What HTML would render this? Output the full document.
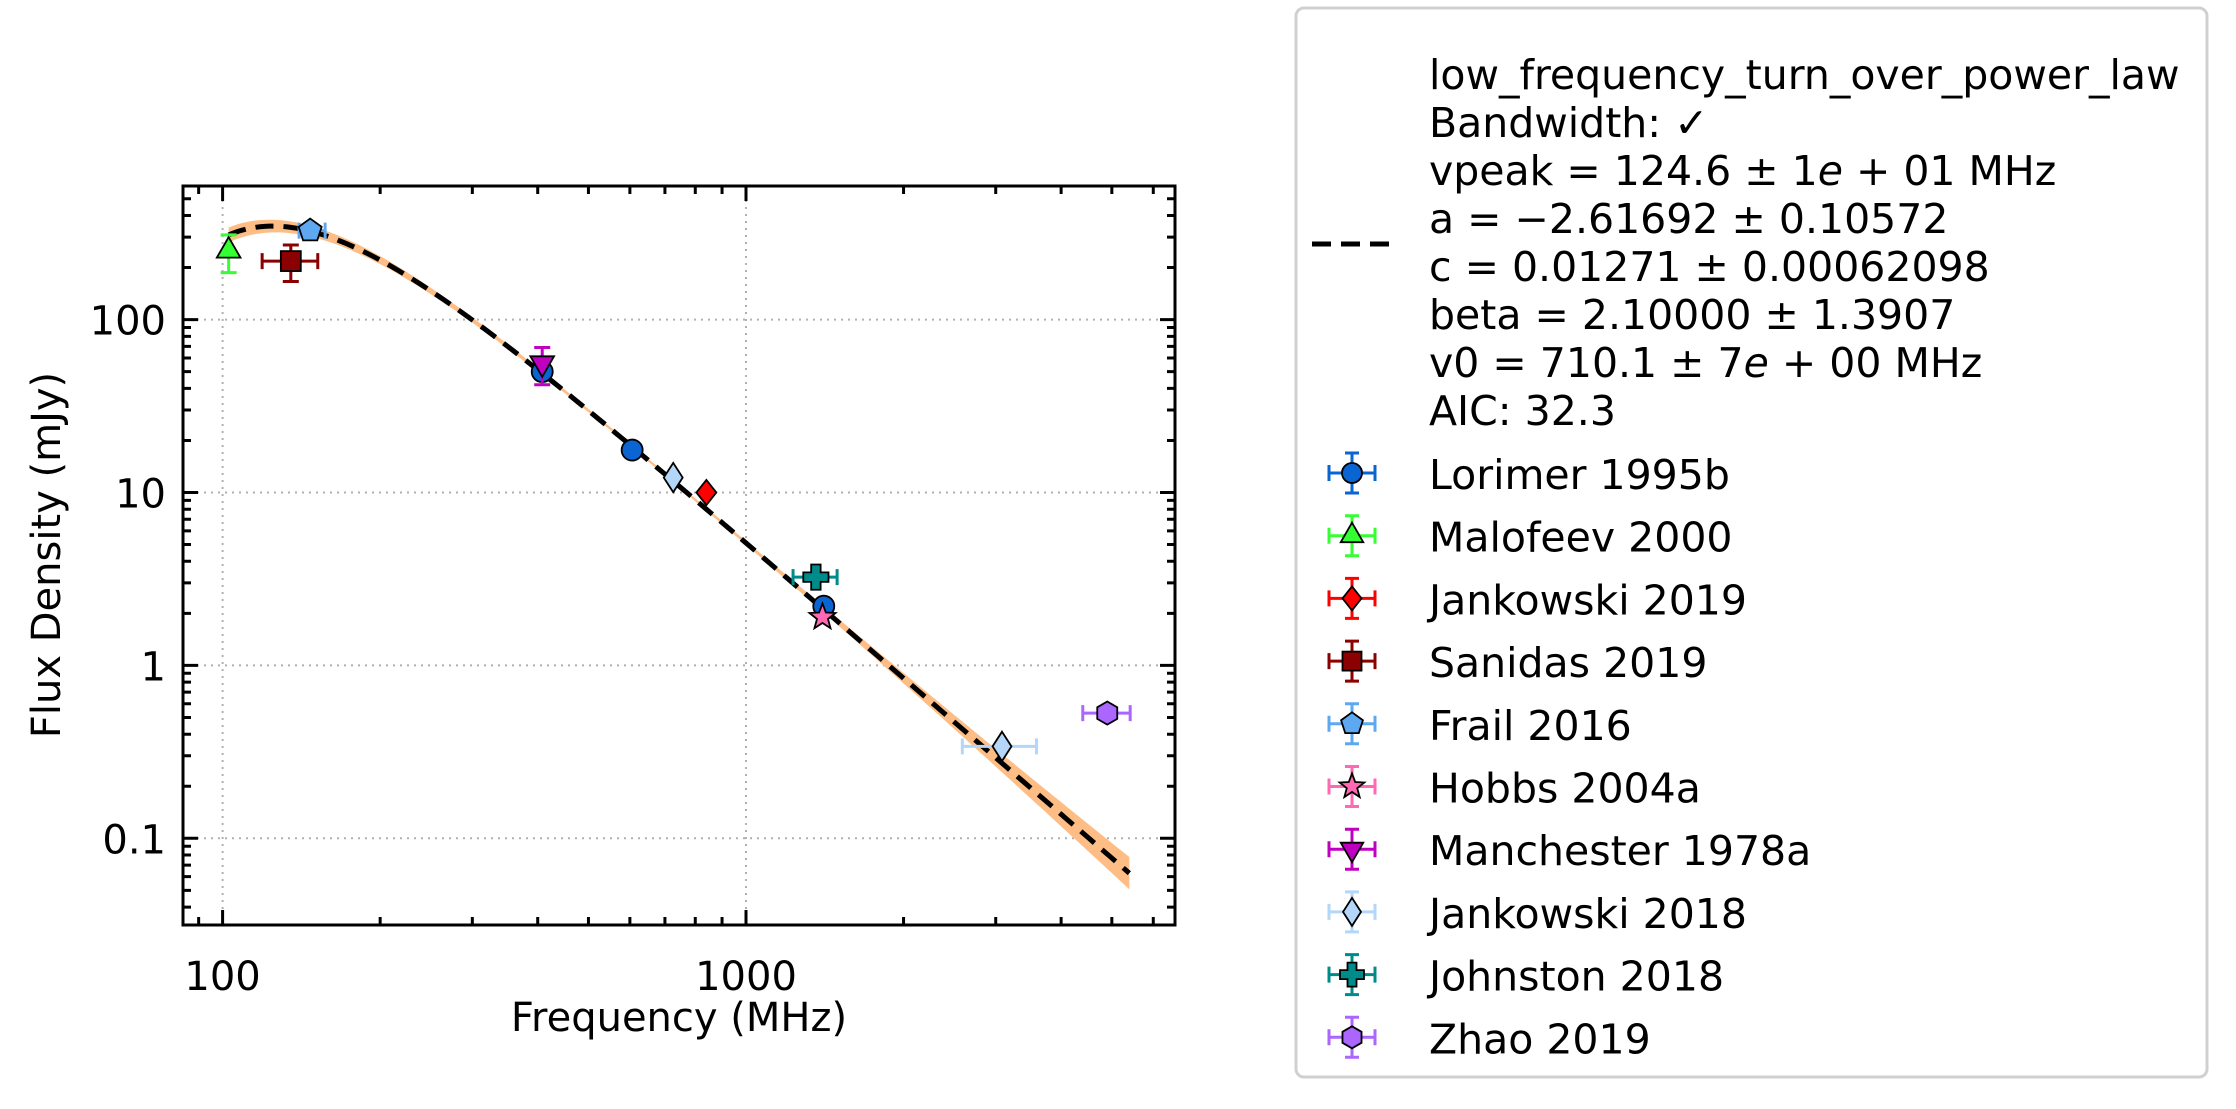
<!DOCTYPE html>
<html><head><meta charset="utf-8"><style>
html,body{margin:0;padding:0;background:#fff;}
svg{display:block;font-family:"DejaVu Sans","Liberation Sans",sans-serif;}
</style></head><body>
<svg id="chart" width="2236" height="1109" viewBox="0 0 2236 1109" xmlns="http://www.w3.org/2000/svg">
<rect x="0" y="0" width="2236" height="1109" fill="#fff"/>
<defs><clipPath id="plotclip"><rect x="183" y="186" width="992" height="739"/></clipPath></defs>
<g id="grid"></g>
<g id="fit" clip-path="url(#plotclip)"></g>
<g id="points"></g>
<g id="axes"></g>
<text x="679" y="1031" font-size="40" text-anchor="middle">Frequency (MHz)</text>
<text transform="translate(60,555) rotate(-90)" font-size="40" text-anchor="middle">Flux Density (mJy)</text>
<g id="legend">
<rect x="1296" y="8" width="911" height="1069" rx="8" fill="#fff" stroke="#d0d0d0" stroke-width="3"/>
<line x1="1312" y1="244" x2="1394" y2="244" stroke="#000" stroke-width="5" stroke-dasharray="19,10"/>
<g font-size="41">
<text x="1429" y="89">low_frequency_turn_over_power_law</text>
<text x="1429" y="137">Bandwidth: ✓</text>
<text x="1429" y="185">vpeak = 124.6 ± 1<tspan font-style="italic">e</tspan> + 01 MHz</text>
<text x="1429" y="233">a = −2.61692 ± 0.10572</text>
<text x="1429" y="281">c = 0.01271 ± 0.00062098</text>
<text x="1429" y="329">beta = 2.10000 ± 1.3907</text>
<text x="1429" y="377">v0 = 710.1 ± 7<tspan font-style="italic">e</tspan> + 00 MHz</text>
<text x="1429" y="425">AIC: 32.3</text>
</g>
<g id="legendEntries"></g>
</g>
</svg>
<script>
// ---- data ----
const fitParams = [124.6, -2.61692, 12.71, 2.1, 710.1]; // vpeak, a, c(mJy), beta, v0
const fitRange = [102.7, 5400];
const seriesNames = ["Lorimer 1995b","Malofeev 2000","Jankowski 2019","Sanidas 2019","Frail 2016","Hobbs 2004a","Manchester 1978a","Jankowski 2018","Johnston 2018","Zhao 2019"];
const seriesColors = ["#0a64d2","#33ff33","#ff0000","#8b0000","#5ea8f2","#ff69b4","#c000c0","#b4d6f8","#008b8b","#aa66ff"];
const seriesMarkers = ["circle","triangle","diamond","square","pentagon","star","tridown","thindiamond","plus","hexagon"];
const lorimerFreq = [408, 606, 1408];
const lorimerFlux = [50, 17.6, 2.2];
const malofeevFreq = [102.7];
const malofeevFlux = [250];
const malofeevYErr = [[187, 309]];
const jank19Freq = [840];
const jank19Flux = [10];
const sanidasFreq = [135];
const sanidasFlux = [218];
const sanidasXErr = [[119, 152]];
const sanidasYErr = [[166, 270]];
const frailFreq = [147];
const frailFlux = [327];
const frailXErr = [[140, 157]];
const hobbsFreq = [1400];
const hobbsFlux = [1.9];
const manchesterFreq = [408];
const manchesterFlux = [56];
const manchesterYErr = [[42, 69]];
const jank18Freq = [726, 3084];
const jank18Flux = [12.2, 0.34];
const jank18XErr = [null, [2590, 3590]];
const johnstonFreq = [1360];
const johnstonFlux = [3.24];
const johnstonXErr = [[1230, 1493]];
const zhaoFreq = [4900];
const zhaoFlux = [0.53];
const zhaoXErr = [[4400, 5420]];
const xTickValues = [100, 1000];
const xTickLabels = ["100", "1000"];
const yTickValues = [0.1, 1, 10, 100];
const yTickLabels = ["0.1", "1", "10", "100"];

// ---- axes ----
const L=183, R=1175, T=186, B=925;
function xs(f){return 222.6 + (Math.log10(f)-2)*523.4;}
function ys(s){return 319.6 - (Math.log10(s)-2)*172.9;}
const NS="http://www.w3.org/2000/svg";
function mk(tag, attrs, parent){const e=document.createElementNS(NS,tag);for(const k in attrs)e.setAttribute(k,attrs[k]);parent.appendChild(e);return e;}
const grid=document.getElementById('grid'), axes=document.getElementById('axes');
xTickValues.forEach((v,i)=>{
  const g=mk('line',{x1:xs(v),x2:xs(v),y1:T,y2:B,stroke:'#b0b0b0','stroke-width':2,'stroke-dasharray':'2,5'},grid);
  
  
  const t=mk('text',{x:xs(v),y:990,'font-size':40,'text-anchor':'middle'},axes);
  t.textContent=xTickLabels[i];
  
  
});
yTickValues.forEach((v,i)=>{
  const g=mk('line',{x1:L,x2:R,y1:ys(v),y2:ys(v),stroke:'#b0b0b0','stroke-width':2,'stroke-dasharray':'2,5'},grid);
  
  
  const t=mk('text',{x:166,y:ys(v)+15,'font-size':40,'text-anchor':'end'},axes);
  t.textContent=yTickLabels[i];
  
  
});
let tp='';
for(let d=1;d<=3;d++){for(let m=1;m<=9;m++){const f=m*Math.pow(10,d);const x=xs(f);if(x<L||x>R)continue;const len=(m===1)?15:8;tp+=`M${x},${B}v${-len}M${x},${T}v${len}`;}}
for(let d=-2;d<=2;d++){for(let m=1;m<=9;m++){const s=m*Math.pow(10,d);const y=ys(s);if(y<T||y>B)continue;const len=(m===1)?15:8;tp+=`M${L},${y}h${len}M${R},${y}h${-len}`;}}
const tk=mk('path',{d:tp,stroke:'#000','stroke-width':3,fill:'none'},axes);


const fr=mk('rect',{x:L,y:T,width:R-L,height:B-T,fill:'none',stroke:'#000','stroke-width':3},axes);



// ---- fit ----
function model(v){const [vp,a,c,b,v0]=fitParams;return c*Math.pow(v/v0,a)*Math.exp(a/b*Math.pow(v/vp,-b));}
const fit=document.getElementById('fit');
let up=[],lo=[],mid=[];
const l0=Math.log10(fitRange[0]), l1=Math.log10(fitRange[1]);
for(let i=0;i<=200;i++){const lv=l0+i*(l1-l0)/200;const v=Math.pow(10,lv);const s=model(v);
  const l=Math.abs(Math.log10(v/fitParams[4]));const hw=0.008+(v>fitParams[4]?0.11*l*l:0.05*l*l);
  up.push([xs(v),ys(s*Math.pow(10,hw))]);lo.push([xs(v),ys(s/Math.pow(10,hw))]);mid.push([xs(v),ys(s)]);}
const band=mk('path',{d:'M'+up.map(p=>p.join(',')).join('L')+'L'+lo.reverse().map(p=>p.join(',')).join('L')+'Z',fill:'#fdbd85',stroke:'none'},fit);


const fl=mk('path',{d:'M'+mid.map(p=>p.join(',')).join('L'),fill:'none',stroke:'#000','stroke-width':5,'stroke-dasharray':'18,10'},fit);



// ---- markers ----
function marker(type,x,y,color,parent,r){
  r=r||10;let e;
  const st={fill:color,stroke:'#000','stroke-width':1.8};
  const poly=(pts)=>mk('polygon',Object.assign({points:pts.map(p=>p.join(',')).join(' ')},st),parent);
  const reg=(n,rad,rot)=>{const p=[];for(let i=0;i<n;i++){const a=rot+i*2*Math.PI/n;p.push([x+rad*Math.cos(a),y+rad*Math.sin(a)]);}return p;};
  if(type==='circle') e=mk('circle',Object.assign({cx:x,cy:y,r:r},st),parent);
  else if(type==='triangle') e=poly(reg(3,r*1.3,-Math.PI/2));
  else if(type==='tridown') e=poly(reg(3,r*1.3,Math.PI/2));
  else if(type==='diamond') e=poly([[x,y-r*1.2],[x+r*0.95,y],[x,y+r*1.2],[x-r*0.95,y]]);
  else if(type==='thindiamond') e=poly([[x,y-r*1.4],[x+r*0.9,y],[x,y+r*1.4],[x-r*0.9,y]]);
  else if(type==='square') e=mk('rect',Object.assign({x:x-r*0.95,y:y-r*0.95,width:r*1.9,height:r*1.9},st),parent);
  else if(type==='pentagon') e=poly(reg(5,r*1.15,-Math.PI/2));
  else if(type==='hexagon') e=poly(reg(6,r*1.1,-Math.PI/2));
  else if(type==='star'){const p=[];for(let i=0;i<10;i++){const a=-Math.PI/2+i*Math.PI/5;const rr=i%2?r*0.55:r*1.3;p.push([x+rr*Math.cos(a),y+rr*Math.sin(a)]);}e=poly(p);}
  else if(type==='plus'){const w=r*0.45,h=r*1.2;e=poly([[x-w,y-h],[x+w,y-h],[x+w,y-w],[x+h,y-w],[x+h,y+w],[x+w,y+w],[x+w,y+h],[x-w,y+h],[x-w,y+w],[x-h,y+w],[x-h,y-w],[x-w,y-w]]);}
  return e;
}
function errbar(x1,y1,x2,y2,color,parent,horiz){
  const d=horiz?`M${x1},${y1}H${x2}M${x1},${y1-8}v16M${x2},${y1-8}v16`:`M${x1},${y1}V${y2}M${x1-8},${y1}h16M${x1-8},${y2}h16`;
  const e=mk('path',{d:d,stroke:color,'stroke-width':3,fill:'none'},parent);
  
  
}
const seriesData=[
  [lorimerFreq,lorimerFlux,null,null],
  [malofeevFreq,malofeevFlux,null,malofeevYErr],
  [jank19Freq,jank19Flux,null,null],
  [sanidasFreq,sanidasFlux,sanidasXErr,sanidasYErr],
  [frailFreq,frailFlux,frailXErr,null],
  [hobbsFreq,hobbsFlux,null,null],
  [manchesterFreq,manchesterFlux,null,manchesterYErr],
  [jank18Freq,jank18Flux,jank18XErr,null],
  [johnstonFreq,johnstonFlux,johnstonXErr,null],
  [zhaoFreq,zhaoFlux,zhaoXErr,null]];
const pts=document.getElementById('points');
seriesData.forEach((sd,si)=>{
  const g=mk('g',{},pts);
  
  
  const [fx,fy,xe,ye]=sd;const col=seriesColors[si];
  fx.forEach((f,i)=>{
    const x=xs(f),y=ys(fy[i]);
    if(xe&&xe[i]) errbar(xs(xe[i][0]),y,xs(xe[i][1]),y,col,g,true);
    if(ye&&ye[i]) errbar(x,ys(ye[i][1]),x,ys(ye[i][0]),col,g,false);
    const m=marker(seriesMarkers[si],x,y,col,g,10.5);
    
    
  });
});
const le=document.getElementById('legendEntries');
seriesNames.forEach((n,i)=>{
  const y=473+i*62.7, x=1352;
  const g=mk('g',{},le);
  
  
  const col=seriesColors[i];
  mk('path',{d:`M${x-23},${y}H${x+23}M${x-23},${y-8}v16M${x+23},${y-8}v16M${x},${y-20}V${y+20}M${x-7},${y-20}h14M${x-7},${y+20}h14`,stroke:col,'stroke-width':3,fill:'none'},g);
  marker(seriesMarkers[i],x,y,col,g,10);
  const t=mk('text',{x:1429,y:y+16,'font-size':41},g);
  t.textContent=n;
});
</script>
</body></html>
